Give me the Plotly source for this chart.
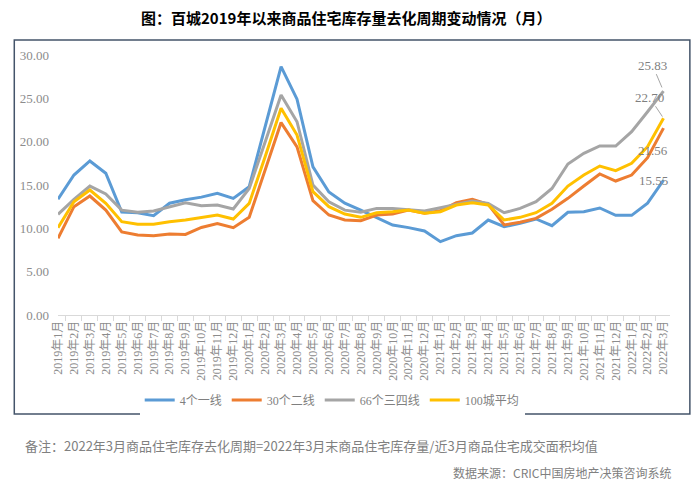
import plotly.graph_objects as go

months = ["2019年1月", "2019年2月", "2019年3月", "2019年4月", "2019年5月", "2019年6月",
          "2019年7月", "2019年8月", "2019年9月", "2019年10月", "2019年11月", "2019年12月",
          "2020年1月", "2020年2月", "2020年3月", "2020年4月", "2020年5月", "2020年6月",
          "2020年7月", "2020年8月", "2020年9月", "2020年10月", "2020年11月", "2020年12月",
          "2021年1月", "2021年2月", "2021年3月", "2021年4月", "2021年5月", "2021年6月",
          "2021年7月", "2021年8月", "2021年9月", "2021年10月", "2021年11月", "2021年12月",
          "2022年1月", "2022年2月", "2022年3月"]

tier1 = [13.35, 16.15, 17.77, 16.35, 11.88, 11.8, 11.46, 12.9, 13.3, 13.6, 14.04, 13.46, 14.8,
         21.6, 28.65, 24.9, 17.1, 14.2, 12.9, 12.1, 11.27, 10.38, 10.08, 9.69, 8.46, 9.15, 9.46,
         10.96, 10.19, 10.58, 11.08, 10.3, 11.85, 11.92, 12.35, 11.5, 11.5, 12.9, 15.55]
tier2 = [8.85, 12.5, 13.73, 12.1, 9.58, 9.23, 9.15, 9.35, 9.3, 10.1, 10.54, 10.08, 11.27,
         16.65, 22.2, 19.4, 13.2, 11.54, 10.96, 10.88, 11.54, 11.65, 12.1, 11.73, 12.03, 12.96,
         13.35, 12.77, 10.4, 10.7, 11.15, 12.2, 13.46, 14.88, 16.27, 15.46, 16.15, 18.15, 21.56]
tier34 = [11.62, 13.35, 14.88, 13.96, 12.1, 11.85, 12.0, 12.5, 12.96, 12.61, 12.69, 12.23, 14.6,
          19.96, 25.38, 22.3, 15.0, 13.07, 12.1, 11.85, 12.3, 12.3, 12.19, 12.0, 12.38, 12.8,
          13.15, 12.88, 11.8, 12.3, 13.07, 14.6, 17.42, 18.65, 19.5, 19.5, 21.15, 23.45, 25.83]
avg100 = [10.08, 13.07, 14.42, 12.88, 10.77, 10.46, 10.46, 10.77, 10.96, 11.27, 11.54, 11.08, 12.88,
          18.27, 23.85, 20.77, 14.23, 12.5, 11.65, 11.27, 11.8, 11.92, 12.1, 11.73, 11.92, 12.69,
          12.96, 12.69, 10.96, 11.27, 11.8, 12.88, 14.88, 16.15, 17.19, 16.65, 17.5, 19.42, 22.70]

series = [("4个一线", tier1, "#5b9bd5"),
          ("30个二线", tier2, "#ed7d31"),
          ("66个三四线", tier34, "#a5a5a5"),
          ("100城平均", avg100, "#ffc000")]

# page body has an 8px margin; layout is specified in screen pixels and shifted
OFF = 8
PL, PT, PW, PH = 54, 55, 616, 260   # plot area in screen pixels


def px(sx):
    return (sx - PL) / PW


def py(sy):
    return (PT + PH - sy) / PH


fig = go.Figure()
for name, vals, color in series:
    fig.add_trace(go.Scatter(x=months, y=vals, mode="lines", name=name,
                             line=dict(color=color, width=3)))

num_font = dict(family="Liberation Serif, Noto Sans CJK SC", size=13, color="#7f7f7f")
last = months[-1]
fig.add_annotation(x=last, y=tier34[-1], text=f"{tier34[-1]:.2f}", showarrow=True,
                   arrowhead=0, arrowwidth=1, arrowcolor="#a5a5a5", ax=-11, ay=-26,
                   standoff=4, font=num_font)
fig.add_annotation(x=last, y=avg100[-1], text=f"{avg100[-1]:.2f}", showarrow=True,
                   arrowhead=0, arrowwidth=1, arrowcolor="#a5a5a5", ax=-14, ay=-21,
                   standoff=2, font=num_font)
fig.add_annotation(x=last, y=tier2[-1], text=f"{tier2[-1]:.2f}", showarrow=False,
                   xshift=-11, yshift=-22, font=num_font)
fig.add_annotation(x=last, y=tier1[-1], text=f"{tier1[-1]:.2f}", showarrow=False,
                   xshift=-10, yshift=0, font=num_font)

fig.add_annotation(xref="paper", yref="paper", x=px(344), y=py(17),
                   text="<b>图：百城2019年以来商品住宅库存量去化周期变动情况（月）</b>",
                   showarrow=False, xanchor="center", yanchor="middle",
                   font=dict(family="Noto Sans CJK SC", size=15, color="#000000"))
fig.add_annotation(xref="paper", yref="paper", x=px(19), y=py(445),
                   text="备注：2022年3月商品住宅库存去化周期=2022年3月末商品住宅库存量/近3月商品住宅成交面积均值",
                   showarrow=False, xanchor="left", yanchor="middle",
                   font=dict(family="Noto Sans CJK SC", size=13, color="#808080"))
fig.add_annotation(xref="paper", yref="paper", x=px(673), y=py(472),
                   text="数据来源：CRIC中国房地产决策咨询系统",
                   showarrow=False, xanchor="right", yanchor="middle",
                   font=dict(family="Noto Sans CJK SC", size=12, color="#808080"))

fig.add_shape(type="rect", xref="paper", yref="paper",
              x0=px(10), x1=px(690), y0=py(414), y1=py(40),
              line=dict(color="#44546a", width=1.5), fillcolor="rgba(0,0,0,0)", layer="below")

fig.update_layout(
    width=700, height=487,
    margin=dict(l=PL - OFF, r=700 - (PL + PW - OFF), t=PT - OFF, b=487 - (PT + PH - OFF)),
    paper_bgcolor="white", plot_bgcolor="white",
    showlegend=True,
    legend=dict(orientation="h", x=px(330), xanchor="center", y=py(400), yanchor="middle",
                font=dict(family="Liberation Serif, Noto Sans CJK SC", size=12, color="#7f7f7f"),
                itemwidth=30, tracegroupgap=0),
    xaxis=dict(type="category", showgrid=False, showline=True, linecolor="#d9d9d9",
               ticks="outside", tickson="boundaries", ticklen=5, tickcolor="#d9d9d9",
               tickangle=-90, zeroline=False,
               tickfont=dict(family="Liberation Serif, Noto Sans CJK SC", size=12, color="#8c8c8c")),
    yaxis=dict(range=[0, 30], dtick=5, tickformat=".2f", showgrid=False, showline=False,
               zeroline=False, ticklabelstandoff=8,
               tickfont=dict(family="Liberation Serif, Noto Sans CJK SC", size=13, color="#8c8c8c")),
)

fig.write_html("out.html")
